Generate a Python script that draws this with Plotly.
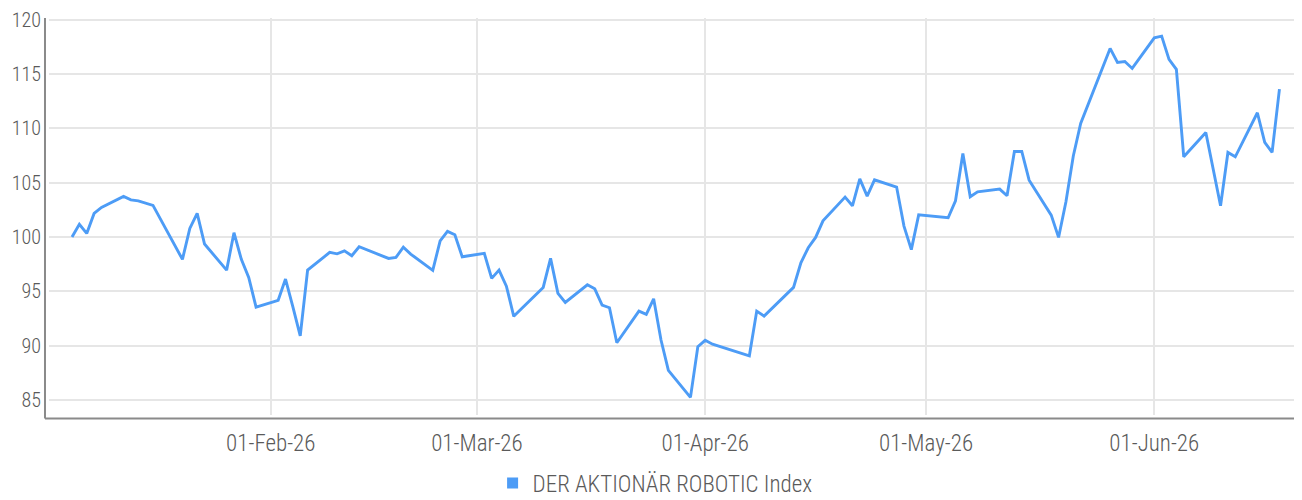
import plotly.graph_objects as go

dates = [
    "2026-01-05", "2026-01-06", "2026-01-07", "2026-01-08", "2026-01-09",
    "2026-01-12", "2026-01-13", "2026-01-14", "2026-01-16",
    "2026-01-20", "2026-01-21", "2026-01-22", "2026-01-23",
    "2026-01-26", "2026-01-27", "2026-01-28", "2026-01-29", "2026-01-30",
    "2026-02-02", "2026-02-03", "2026-02-04", "2026-02-05", "2026-02-06",
    "2026-02-09", "2026-02-10", "2026-02-11", "2026-02-12", "2026-02-13",
    "2026-02-17", "2026-02-18", "2026-02-19", "2026-02-20",
    "2026-02-23", "2026-02-24", "2026-02-25", "2026-02-26", "2026-02-27",
    "2026-03-02", "2026-03-03", "2026-03-04", "2026-03-05", "2026-03-06",
    "2026-03-10", "2026-03-11", "2026-03-12", "2026-03-13",
    "2026-03-16", "2026-03-17", "2026-03-18", "2026-03-19", "2026-03-20",
    "2026-03-23", "2026-03-24", "2026-03-25", "2026-03-26", "2026-03-27",
    "2026-03-30", "2026-03-31", "2026-04-01", "2026-04-02",
    "2026-04-07", "2026-04-08", "2026-04-09",
    "2026-04-13", "2026-04-14", "2026-04-15", "2026-04-16", "2026-04-17",
    "2026-04-20", "2026-04-21", "2026-04-22", "2026-04-23", "2026-04-24",
    "2026-04-27", "2026-04-28", "2026-04-29", "2026-04-30",
    "2026-05-04", "2026-05-05", "2026-05-06", "2026-05-07", "2026-05-08",
    "2026-05-11", "2026-05-12", "2026-05-13", "2026-05-14", "2026-05-15",
    "2026-05-18", "2026-05-19", "2026-05-20", "2026-05-21", "2026-05-22",
    "2026-05-26", "2026-05-27", "2026-05-28", "2026-05-29",
    "2026-06-01", "2026-06-02", "2026-06-03", "2026-06-04", "2026-06-05",
    "2026-06-08", "2026-06-10", "2026-06-11", "2026-06-12",
    "2026-06-15", "2026-06-16", "2026-06-17", "2026-06-18",
]

index_values = [
    100.0, 101.16, 100.33, 102.17, 102.72,
    103.74, 103.42, 103.33, 102.91,
    97.94, 100.79, 102.17, 99.35,
    96.95, 100.39, 97.94, 96.28, 93.55,
    94.17, 96.13, 93.58, 90.91, 96.95,
    98.58, 98.45, 98.73, 98.27, 99.10,
    98.03, 98.12, 99.07, 98.43,
    96.93, 99.65, 100.52, 100.20, 98.18,
    98.49, 96.19, 96.95, 95.48, 92.70,
    95.36, 98.03, 94.81, 93.98,
    95.60, 95.23, 93.74, 93.49, 90.27,
    93.18, 92.88, 94.31, 90.52, 87.73,
    85.24, 89.90, 90.49, 90.13,
    89.07, 93.18, 92.72,
    95.36, 97.63, 99.01, 99.96, 101.49,
    103.67, 102.87, 105.35, 103.76, 105.26,
    104.59, 101.00, 98.84, 102.03,
    101.77, 103.33, 107.69, 103.70, 104.16,
    104.41, 103.79, 107.87, 107.87, 105.23,
    102.01, 99.96, 103.24, 107.46, 110.45,
    117.35, 116.06, 116.15, 115.51,
    118.33, 118.48, 116.34, 115.42, 107.38,
    109.62, 102.87, 107.78, 107.38,
    111.43, 108.70, 107.78, 113.61,
]

series_name = "DER AKTIONÄR ROBOTIC Index"
x_ticks = ["2026-02-01", "2026-03-01", "2026-04-01", "2026-05-01", "2026-06-01"]
y_ticks = [85, 90, 95, 100, 105, 110, 115, 120]

LINE_COLOR = "#4d9cf6"
GRID = "#e6e6e6"
AXIS = "#8a8a8a"
TEXT = "#5a5a5a"
FONT = "Roboto Condensed, Roboto, sans-serif"

fig = go.Figure()
fig.add_trace(go.Scatter(
    x=dates, y=index_values, mode="lines",
    line=dict(color=LINE_COLOR, width=2.9),
    showlegend=False, name=series_name,
))
# legend proxy (square swatch)
fig.add_trace(go.Scatter(
    x=[None], y=[None], mode="markers",
    marker=dict(symbol="square", size=11, color=LINE_COLOR),
    name=series_name, showlegend=True,
))

fig.update_layout(
    width=1302, height=500,
    margin=dict(l=41, r=8, t=10, b=93, autoexpand=False),
    plot_bgcolor="white", paper_bgcolor="white",
    font=dict(family=FONT, size=23, color=TEXT, weight=300),
    showlegend=True,
    legend=dict(orientation="h", xref="container", x=0.497, xanchor="center",
                yref="container", y=0.05, yanchor="middle",
                font=dict(size=23, color=TEXT, weight=300), itemwidth=30, tracegroupgap=0),
    xaxis=dict(
        type="date",
        range=["2026-01-01 21:00", "2026-06-21 01:30"],
        tickvals=x_ticks, tickformat="%d-%b-%y",
        showgrid=True, gridcolor=GRID, gridwidth=2,
        showline=False, zeroline=False, ticks="",
        ticklabelstandoff=12, automargin=False,
    ),
    yaxis=dict(
        range=[83.62, 120.15],
        tickvals=y_ticks,
        tickfont=dict(size=20),
        showgrid=True, gridcolor=GRID, gridwidth=2,
        showline=False, zeroline=False, ticks="",
        ticklabelstandoff=7, automargin=False,
        ticklabeloverflow="allow",
    ),
    shapes=[
        dict(type="line", xref="paper", yref="paper", x0=-0.0032, x1=-0.0032,
             y0=-0.009, y1=1.0, line=dict(color=AXIS, width=2)),
        dict(type="line", xref="paper", yref="paper", x0=-0.0032, x1=1.0,
             y0=-0.009, y1=-0.009, line=dict(color=AXIS, width=2)),
    ],
)

fig.write_html("out.html")
